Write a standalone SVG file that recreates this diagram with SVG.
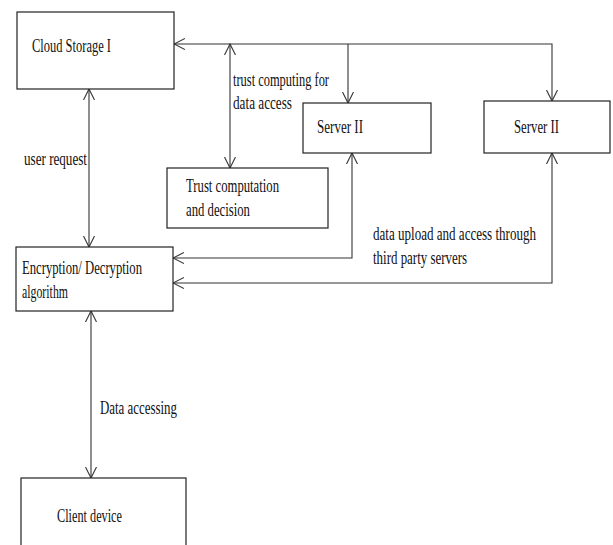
<svg xmlns="http://www.w3.org/2000/svg" width="613" height="545" viewBox="0 0 613 545">
<style>
.box{fill:#fff;stroke:#222;stroke-width:1.2}
.t{font-family:"Liberation Serif","Times New Roman",serif;font-size:19px;fill:#111}
.c{fill:none;stroke:#333;stroke-width:1.1}
</style>
<defs>
<marker id="a" viewBox="0 0 12 12" refX="11" refY="6" markerWidth="12" markerHeight="12" markerUnits="userSpaceOnUse" orient="auto-start-reverse">
<path d="M0,0.5 L11,6 L0,11.5" fill="none" stroke="#333" stroke-width="1.1"/>
</marker>
</defs>
<rect width="613" height="545" fill="#fff"/>
<g id="connectors">
<path class="c" d="M552,101 V44 H174" marker-start="url(#a)" marker-end="url(#a)"/>
<path class="c" d="M348,44 V103" marker-end="url(#a)"/>
<path class="c" d="M230,44 V168" marker-start="url(#a)" marker-end="url(#a)"/>
<path class="c" d="M89,89 V247" marker-start="url(#a)" marker-end="url(#a)"/>
<path class="c" d="M352,153 V258 H173" marker-start="url(#a)" marker-end="url(#a)"/>
<path class="c" d="M552,153 V283 H173" marker-start="url(#a)" marker-end="url(#a)"/>
<path class="c" d="M91,311 V478" marker-start="url(#a)" marker-end="url(#a)"/>
<text class="t" x="233" y="86" textLength="96" lengthAdjust="spacingAndGlyphs">trust computing for</text>
<text class="t" x="233" y="109" textLength="59" lengthAdjust="spacingAndGlyphs">data access</text>
<text class="t" x="24" y="165" textLength="63" lengthAdjust="spacingAndGlyphs">user request</text>
<text class="t" x="373" y="240" textLength="163" lengthAdjust="spacingAndGlyphs">data upload and access through</text>
<text class="t" x="373" y="264" textLength="94" lengthAdjust="spacingAndGlyphs">third party servers</text>
<text class="t" x="100" y="414" textLength="77" lengthAdjust="spacingAndGlyphs">Data accessing</text>
</g>
<g id="cloud">
<rect class="box" x="17" y="12" width="157" height="77"/>
<text class="t" x="32" y="52" textLength="79" lengthAdjust="spacingAndGlyphs">Cloud Storage I</text>
</g>
<g id="server1">
<rect class="box" x="303" y="103" width="128" height="50"/>
<text class="t" x="317" y="133" textLength="46" lengthAdjust="spacingAndGlyphs">Server II</text>
</g>
<g id="server2">
<rect class="box" x="484" y="101" width="126" height="52"/>
<text class="t" x="514" y="133" textLength="45" lengthAdjust="spacingAndGlyphs">Server II</text>
</g>
<g id="trust">
<rect class="box" x="167" y="168" width="161" height="60"/>
<text class="t" x="186" y="192" textLength="93" lengthAdjust="spacingAndGlyphs">Trust computation</text>
<text class="t" x="186" y="216" textLength="64" lengthAdjust="spacingAndGlyphs">and decision</text>
</g>
<g id="encryption">
<rect class="box" x="16" y="247" width="157" height="64"/>
<text class="t" x="22" y="274" textLength="120" lengthAdjust="spacingAndGlyphs">Encryption/ Decryption</text>
<text class="t" x="22" y="298" textLength="46" lengthAdjust="spacingAndGlyphs">algorithm</text>
</g>
<g id="client">
<rect class="box" x="21" y="478" width="165" height="80"/>
<text class="t" x="57" y="522" textLength="65" lengthAdjust="spacingAndGlyphs">Client device</text>
</g>
</svg>
